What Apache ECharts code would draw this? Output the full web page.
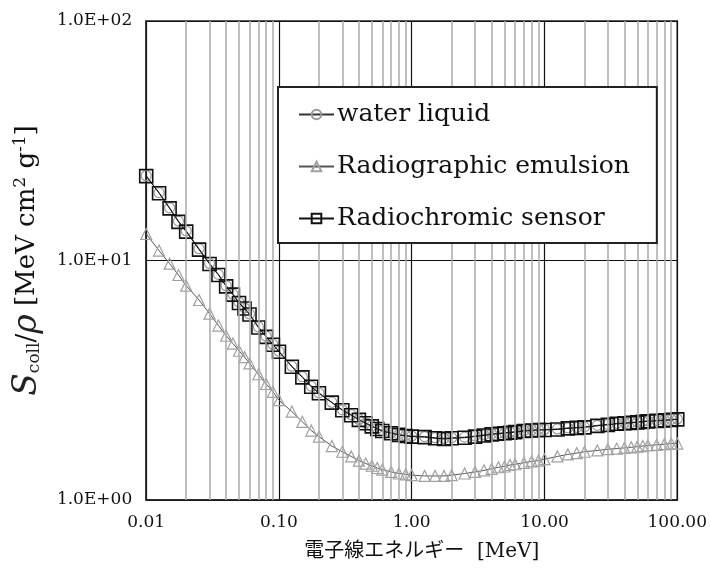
<!DOCTYPE html>
<html>
<head>
<meta charset="utf-8">
<script src="https://cdn.jsdelivr.net/npm/echarts@6/dist/echarts.min.js"></script>
<style>
  html, body { margin: 0; padding: 0; background: #fff; }
  #chart { width: 710px; height: 573px; }
</style>
</head>
<body>
<div id="chart"></div>
<script>
// エネルギー [MeV]
const energy = [0.01, 0.0125, 0.015, 0.0175, 0.02, 0.025, 0.03, 0.035, 0.04, 0.045, 0.05, 0.055, 0.06, 0.07, 0.08, 0.09,
  0.1, 0.125, 0.15, 0.175, 0.2, 0.25, 0.3, 0.35, 0.4, 0.45, 0.5, 0.55, 0.6, 0.7, 0.8, 0.9,
  1, 1.25, 1.5, 1.75, 2, 2.5, 3, 3.5, 4, 4.5, 5, 5.5, 6, 7, 8, 9,
  10, 12.5, 15, 17.5, 20, 25, 30, 35, 40, 45, 50, 55, 60, 70, 80, 90, 100];

// 衝突阻止能 [MeV cm2 g-1]
const water = [22.6, 19.2, 16.6, 14.6, 13.3, 11.2, 9.72, 8.75, 7.85, 7.24, 6.7, 6.34, 5.98, 5.28, 4.83, 4.47,
  4.18, 3.62, 3.27, 2.99, 2.8, 2.56, 2.38, 2.27, 2.17, 2.1, 2.04, 1.99, 1.95, 1.91, 1.88, 1.86,
  1.85, 1.84, 1.82, 1.81, 1.82, 1.83, 1.85, 1.87, 1.89, 1.9, 1.91, 1.92, 1.93, 1.95, 1.96, 1.97,
  1.97, 1.98, 2.0, 2.01, 2.02, 2.05, 2.07, 2.09, 2.1, 2.11, 2.12, 2.13, 2.14, 2.15, 2.16, 2.17, 2.18];

const emulsion = [12.9, 11.0, 9.7, 8.7, 7.85, 6.84, 6.0, 5.35, 4.85, 4.5, 4.2, 3.95, 3.72, 3.35, 3.05, 2.83,
  2.61, 2.34, 2.12, 1.95, 1.84, 1.68, 1.59, 1.52, 1.46, 1.42, 1.39, 1.36, 1.34, 1.31, 1.29, 1.28,
  1.27, 1.26, 1.26, 1.26, 1.27, 1.29, 1.31, 1.33, 1.35, 1.37, 1.38, 1.4, 1.41, 1.43, 1.45, 1.46,
  1.48, 1.52, 1.55, 1.57, 1.59, 1.61, 1.63, 1.64, 1.65, 1.66, 1.67, 1.68, 1.69, 1.7, 1.71, 1.72, 1.72];

const sensor = [22.5, 19.1, 16.5, 14.5, 13.2, 11.1, 9.67, 8.7, 7.8, 7.2, 6.65, 6.3, 5.95, 5.25, 4.8, 4.45,
  4.16, 3.6, 3.25, 2.97, 2.79, 2.55, 2.37, 2.26, 2.16, 2.09, 2.03, 1.98, 1.94, 1.9, 1.87, 1.85,
  1.84, 1.83, 1.81, 1.8, 1.81, 1.82, 1.84, 1.86, 1.88, 1.89, 1.9, 1.91, 1.92, 1.94, 1.95, 1.96,
  1.96, 1.97, 1.99, 2.0, 2.01, 2.04, 2.06, 2.08, 2.09, 2.1, 2.11, 2.12, 2.13, 2.14, 2.15, 2.16, 2.17];

// 補助目盛線 (2〜9 × 10^n)
const minorX = [0.02, 0.03, 0.04, 0.05, 0.06, 0.07, 0.08, 0.09,
  0.2, 0.3, 0.4, 0.5, 0.6, 0.7, 0.8, 0.9,
  2, 3, 4, 5, 6, 7, 8, 9,
  20, 30, 40, 50, 60, 70, 80, 90];

const seriesNames = ['water liquid', 'Radiographic emulsion', 'Radiochromic sensor'];

const pairs = (ys) => energy.map((x, i) => [x, ys[i]]);

const serif = '"DejaVu Serif", "Noto Sans CJK JP", serif';

const chart = echarts.init(document.getElementById('chart'));

const option = {
  animation: false,
  backgroundColor: '#fff',
  grid: {
    left: 145, right: 32, top: 21, bottom: 73,
    show: true,
    borderColor: '#222',
    borderWidth: 1.5
  },
  legend: {
    data: seriesNames,
    orient: 'vertical',
    left: 278,
    top: 87,
    z: 10,
    padding: [15, 27, 12, 20],
    itemGap: 27,
    itemWidth: 35,
    itemHeight: 12,
    backgroundColor: '#fff',
    borderColor: '#222',
    borderWidth: 2,
    textStyle: { fontFamily: serif, fontSize: 25, color: '#111', padding: [0, 0, 0, -2] }
  },
  xAxis: {
    type: 'log',
    logBase: 10,
    min: 0.01,
    max: 100,
    name: '電子線エネルギー  [MeV]',
    nameLocation: 'middle',
    nameGap: 42,
    nameTextStyle: { fontFamily: serif, fontSize: 20, color: '#111', padding: [0, 0, 0, 20] },
    axisLine: { show: true, lineStyle: { color: '#222', width: 1.5 } },
    axisTick: { show: false },
    axisLabel: {
      fontFamily: serif, fontSize: 17, color: '#111', margin: 14,
      formatter: (v) => v.toFixed(2)
    },
    splitLine: { show: true, lineStyle: { color: '#111', width: 1.2 } }
  },
  yAxis: {
    type: 'log',
    logBase: 10,
    min: 1,
    max: 100,
    name: '{s|S}{sub|coll}{n|/}{s|ρ}{n| [MeV cm}{sup|2}{n| g}{sup|-1}{n|]}',
    nameLocation: 'middle',
    nameGap: 86,
    nameRotate: 90,
    nameTextStyle: {
      fontFamily: serif,
      rich: {
        s: { fontFamily: serif, fontSize: 33, fontStyle: 'italic', color: '#222', lineHeight: 38, verticalAlign: 'middle' },
        n: { fontFamily: serif, fontSize: 26, color: '#111', lineHeight: 38, verticalAlign: 'middle' },
        sub: { fontFamily: serif, fontSize: 17, color: '#222', lineHeight: 38, verticalAlign: 'bottom', padding: [0, 0, 3, 0] },
        sup: { fontFamily: serif, fontSize: 17, color: '#111', lineHeight: 38, verticalAlign: 'top', padding: [4, 0, 0, 0] }
      }
    },
    axisLine: { show: true, lineStyle: { color: '#222', width: 1.5 } },
    axisTick: { show: false },
    axisLabel: {
      fontFamily: serif, fontSize: 17, color: '#111', margin: 14,
      formatter: (v) => v.toExponential(1).toUpperCase().replace(/E([+-])(\d)$/, 'E$10$2')
    },
    splitLine: { show: true, lineStyle: { color: '#111', width: 1.2 } }
  },
  series: [
    {
      // 補助目盛線だけ
      name: 'minor',
      type: 'line',
      data: [],
      z: 1,
      silent: true,
      markLine: {
        silent: true,
        symbol: 'none',
        label: { show: false },
        lineStyle: { color: '#aaaaaa', width: 1.5, type: 'solid' },
        data: minorX.map((x) => ({ xAxis: x }))
      }
    },
    {
      name: seriesNames[0],
      type: 'line',
      data: pairs(water),
      z: 3,
      symbol: 'circle',
      symbolSize: 10,
      lineStyle: { color: '#333', width: 1 },
      itemStyle: { color: 'rgba(255,255,255,0)', borderColor: '#9a9a9a', borderWidth: 1.2 }
    },
    {
      name: seriesNames[1],
      type: 'line',
      data: pairs(emulsion),
      z: 3,
      symbol: 'triangle',
      symbolSize: 11,
      lineStyle: { color: '#555', width: 1 },
      itemStyle: { color: 'rgba(255,255,255,0)', borderColor: '#a0a0a0', borderWidth: 1.2 }
    },
    {
      name: seriesNames[2],
      type: 'line',
      data: pairs(sensor),
      z: 4,
      symbol: 'rect',
      symbolSize: 13,
      lineStyle: { color: '#111', width: 1 },
      itemStyle: { color: 'rgba(255,255,255,0)', borderColor: '#111', borderWidth: 1.6 }
    }
  ]
};

chart.setOption(option);
</script>
</body>
</html>
